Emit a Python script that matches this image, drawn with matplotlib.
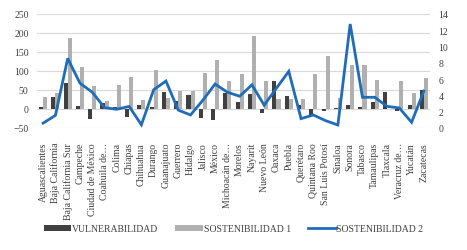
import matplotlib
matplotlib.use("Agg")
import matplotlib.pyplot as plt
import numpy as np

states = ["Aguascalientes", "Baja California", "Baja California Sur", "Campeche",
          "Ciudad de México", "Coahuila de…", "Colima", "Chiapas", "Chihuahua",
          "Durango", "Guanajuato", "Guerrero", "Hidalgo", "Jalisco", "México",
          "Michoacán de…", "Morelos", "Nayarit", "Nuevo León", "Oaxaca", "Puebla",
          "Querétaro", "Quintana Roo", "San Luis Potosí", "Sinaloa", "Sonora",
          "Tabasco", "Tamaulipas", "Tlaxcala", "Veracruz de…", "Yucatán", "Zacatecas"]

vulnerabilidad = [5, 32, 68, 8, -25, 16, 5, -20, 10, 6, 45, 21, 37, -23, -28, 42,
                  18, 39, -10, 75, 34, 10, -15, -6, 3, 10, 5, 18, 45, -6, 10, 51]
sostenibilidad1 = [32, 42, 186, 111, 61, 20, 62, 83, 25, 102, 29, 47, 47, 95, 129, 75,
                   93, 192, 75, 26, 26, 27, 92, 140, 30, 117, 115, 76, 0, 73, 42, 82]
sostenibilidad2 = [0.6, 1.55, 8.55, 5.5, 4.4, 2.5, 2.3, 2.65, 0.4, 4.7, 5.77, 2.2, 1.6,
                   3.4, 5.4, 4.4, 3.9, 5.3, 2.8, 4.9, 6.96, 1.15, 1.6, 0.9, 0.37, 12.77,
                   3.77, 3.77, 2.66, 2.46, 0.7, 4.54]

plt.rcParams['font.family'] = ['Liberation Serif', 'DejaVu Serif']

fig = plt.figure(figsize=(4.67, 2.51), dpi=100)
ax = fig.add_axes([37/467, 1-129/251, (430-37)/467, (129-15)/251])
ax2 = ax.twinx()

x = np.arange(len(states))
w = 0.33
ax.bar(x - w/2, vulnerabilidad, width=w, color="#404040", label="VULNERABILIDAD", zorder=3)
ax.bar(x + w/2, sostenibilidad1, width=w, color="#b0b0b0", label="SOSTENIBILIDAD 1", zorder=3)
ax2.plot(x, sostenibilidad2, color="#1f6db8", lw=2.0, label="SOSTENIBILIDAD 2",
         solid_joinstyle="miter")

ax.set_ylim(-50, 250)
ax.set_yticks(range(-50, 251, 50))
ax2.set_ylim(0, 14)
ax2.set_yticks(range(0, 15, 2))
ax.set_xlim(-0.5, len(states) - 0.5)
ax.set_xticks(x)
ax.set_xticklabels(states, rotation=90, fontsize=7, color="#404040")
ax.grid(axis="y", color="#d9d9d9", lw=0.8, zorder=0)
ax.set_axisbelow(True)
for a in (ax, ax2):
    for s in a.spines.values():
        s.set_visible(False)
    a.tick_params(length=0, labelsize=7, colors="#404040")
ax.tick_params(axis="x", pad=10)
ax.tick_params(axis="y", pad=6)
ax2.tick_params(axis="y", pad=6)

h1, l1 = ax.get_legend_handles_labels()
h2, l2 = ax2.get_legend_handles_labels()
fig.legend(h1 + h2, l1 + l2, loc="center", bbox_to_anchor=(0.5, 1-230/251), ncol=3,
           frameon=False, fontsize=7, handlelength=2.8, handleheight=0.5,
           handletextpad=0.1, columnspacing=1.8, labelcolor="#404040")

fig.savefig("out.png", dpi=100)
